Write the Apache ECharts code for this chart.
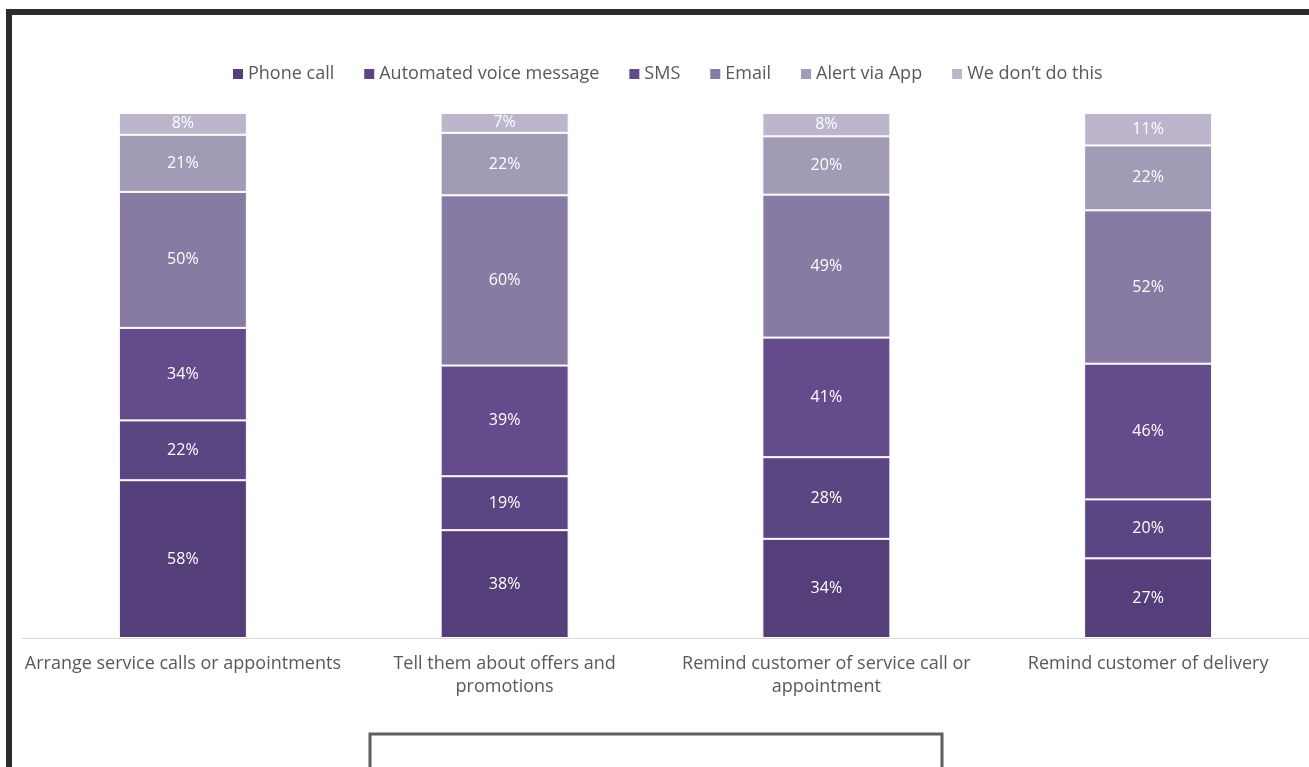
<!DOCTYPE html>
<html>
<head>
<meta charset="utf-8">
<script src="https://cdn.jsdelivr.net/npm/echarts@6/dist/echarts.min.js"></script>
<style>
html,body{margin:0;padding:0;background:#fff;}
#chart{width:1309px;height:767px;}
</style>
</head>
<body>
<div id="chart"></div>
<script>
const categories = [
  "Arrange service calls or appointments",
  "Tell them about offers and\npromotions",
  "Remind customer of service call or\nappointment",
  "Remind customer of delivery"
];
const seriesNames = ["Phone call", "Automated voice message", "SMS", "Email", "Alert via App", "We don\u2019t do this"];
const phoneCall = [58, 38, 34, 27];
const automatedVoice = [22, 19, 28, 20];
const sms = [34, 39, 41, 46];
const email = [50, 60, 49, 52];
const alertViaApp = [21, 22, 20, 22];
const weDontDoThis = [8, 7, 8, 11];

const seriesValues = [phoneCall, automatedVoice, sms, email, alertViaApp, weDontDoThis];
const colors = ["#553f7a", "#5b4684", "#644c8c", "#877ba4", "#a29bb6", "#bcb5cb"];

const totals = categories.map((c, i) => seriesValues.reduce((s, arr) => s + arr[i], 0));

const chart = echarts.init(document.getElementById('chart'));
const font = "'Open Sans', 'Noto Sans', sans-serif";

const series = seriesValues.map((vals, si) => ({
  name: seriesNames[si],
  type: 'bar',
  stack: 'total',
  barWidth: 128,
  itemStyle: { color: colors[si], borderColor: '#ffffff', borderWidth: 1 },
  label: {
    show: true,
    position: 'inside',
    color: '#ffffff',
    fontFamily: font,
    fontSize: 16,
    formatter: p => vals[p.dataIndex] + '%'
  },
  data: vals.map((v, i) => v / totals[i] * 100)
}));

chart.setOption({
  animation: false,
  color: colors,
  legend: {
    top: 60,
    left: 228,
    itemWidth: 10,
    itemHeight: 10,
    itemGap: 30,
    icon: 'rect',
    itemStyle: { borderWidth: 0 },
    textStyle: { color: '#595959', fontSize: 18, fontFamily: font },
    data: seriesNames
  },
  grid: { left: 22, top: 113, width: 1288, height: 525, containLabel: false },
  xAxis: {
    type: 'category',
    data: categories,
    axisLine: { lineStyle: { color: '#d9d9d9', width: 1 } },
    axisTick: { show: false },
    axisLabel: {
      color: '#595959',
      fontSize: 18,
      fontFamily: font,
      lineHeight: 23,
      margin: 14,
      interval: 0
    }
  },
  yAxis: {
    type: 'value',
    min: 0,
    max: 100,
    show: false
  },
  graphic: [
    {
      type: 'rect',
      shape: { x: 9, y: 12, width: 1320, height: 800 },
      style: { fill: 'none', stroke: '#2b2b2b', lineWidth: 6 },
      silent: true
    },
    {
      type: 'rect',
      shape: { x: 370, y: 734, width: 572, height: 60 },
      style: { fill: 'none', stroke: '#5f5f5f', lineWidth: 3 },
      silent: true
    }
  ],
  series: series
});
</script>
</body>
</html>
